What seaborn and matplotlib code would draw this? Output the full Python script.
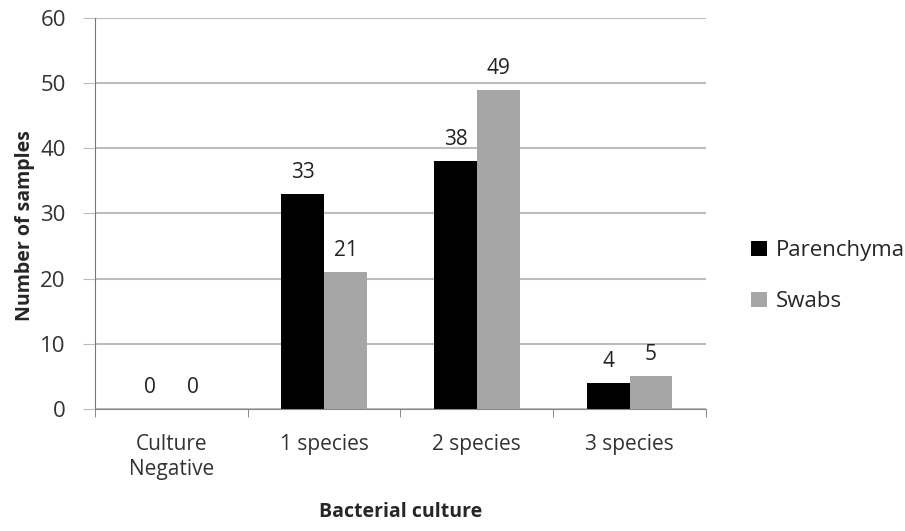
import matplotlib
matplotlib.use('Agg')
import matplotlib.pyplot as plt
import seaborn as sns
import pandas as pd

categories = ['Culture\nNegative', '1 species', '2 species', '3 species']
parenchyma = [0, 33, 38, 4]
swabs = [0, 21, 49, 5]
series_names = ['Parenchyma', 'Swabs']
yticks = [0, 10, 20, 30, 40, 50, 60]

df = pd.DataFrame({
    'culture': categories * 2,
    'count': parenchyma + swabs,
    'type': [series_names[0]] * 4 + [series_names[1]] * 4,
})

sns.set_style('white')
plt.rcParams['font.family'] = ['Open Sans', 'DejaVu Sans']

fig = plt.figure(figsize=(9.05, 5.31), dpi=100)
ax = fig.add_axes([0.105, 0.23, 0.675, 0.736])

sns.barplot(data=df, x='culture', y='count', hue='type',
            palette=['#000000', '#a6a6a6'], width=0.56, ax=ax,
            saturation=1, linewidth=0, legend=True)

for c in ax.containers:
    ax.bar_label(c, fmt='%d', padding=8, fontsize=15, color='#222222')

ax.set_ylim(0, 60)
ax.set_yticks(yticks)
ax.set_xlim(-0.5, 3.5)
ax.yaxis.grid(True, color='#bdbdbd', linewidth=1.5)
ax.set_axisbelow(True)

ax.set_xticks(range(len(categories)))
ax.set_xticklabels(categories, fontsize=15, color='#333333', linespacing=1.25)
ax.set_xticks([-0.5, 0.5, 1.5, 2.5, 3.5], minor=True)
ax.tick_params(axis='x', which='major', length=0, pad=18)
ax.tick_params(axis='x', which='minor', length=6, color='#777777', direction='out', bottom=True)
ax.tick_params(axis='y', labelsize=16, labelcolor='#333333', length=9, color='#bdbdbd',
               direction='out', left=True, pad=12)

for s in ['top', 'right']:
    ax.spines[s].set_visible(False)
ax.spines['left'].set_color('#777777')
ax.spines['bottom'].set_color('#888888')

ax.set_xlabel('Bacterial culture', fontsize=14, fontweight='bold', labelpad=16)
ax.set_ylabel('Number of samples', fontsize=14, fontweight='bold')
ax.yaxis.set_label_coords(-0.098, 0.47)

ax.legend(loc='center left', bbox_to_anchor=(0.818, 0.48), bbox_transform=fig.transFigure,
          frameon=False, fontsize=16, handlelength=0.7, handleheight=0.7,
          handletextpad=0.4, labelspacing=1.35, borderpad=0)

fig.savefig('out.png', dpi=100)
